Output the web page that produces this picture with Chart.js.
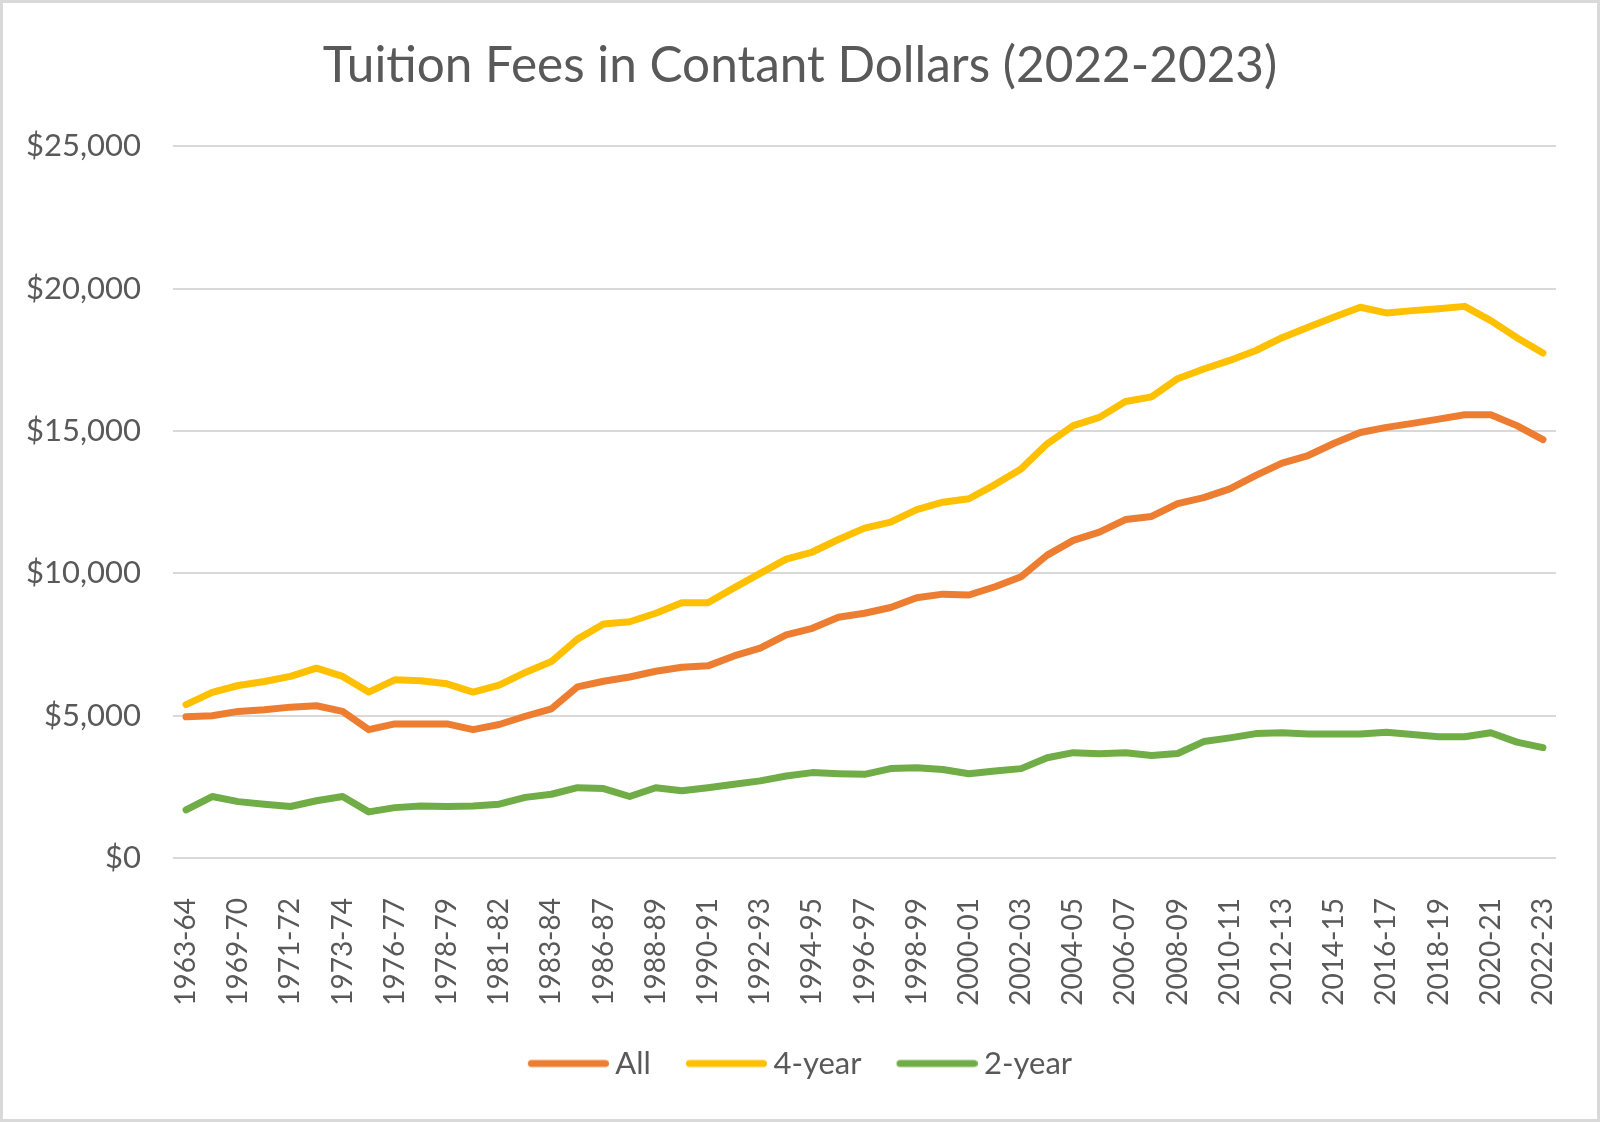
<!DOCTYPE html>
<html>
<head>
<meta charset="utf-8">
<title>Tuition Fees in Contant Dollars (2022-2023)</title>
<script src="https://cdn.jsdelivr.net/npm/chart.js@4.4.0/dist/chart.umd.min.js"></script>
<style>
    html, body { margin: 0; padding: 0; background: #fff; }
    #wrap { width: 1600px; height: 1122px; box-sizing: border-box; border: 3px solid #d9d9d9; background: #fff; }
</style>
</head>
<body>
<div id="wrap"><canvas id="myChart"></canvas></div>
<script>
// academic years (only every other one is labelled on the axis)
const years = [
    '1963-64', '1968-69', '1969-70', '1970-71', '1971-72', '1972-73', '1973-74', '1974-75',
    '1976-77', '1977-78', '1978-79', '1980-81', '1981-82', '1982-83', '1983-84', '1985-86',
    '1986-87', '1987-88', '1988-89', '1989-90', '1990-91', '1991-92', '1992-93', '1993-94',
    '1994-95', '1995-96', '1996-97', '1997-98', '1998-99', '1999-00', '2000-01', '2001-02',
    '2002-03', '2003-04', '2004-05', '2005-06', '2006-07', '2007-08', '2008-09', '2009-10',
    '2010-11', '2011-12', '2012-13', '2013-14', '2014-15', '2015-16', '2016-17', '2017-18',
    '2018-19', '2019-20', '2020-21', '2021-22', '2022-23'
];

const allInst = [
    4960, 5000, 5150, 5210, 5300, 5350, 5150, 4510, 4710, 4710, 4710, 4510, 4690, 4980,
    5240, 6010, 6210, 6360, 6560, 6700, 6750, 7100, 7370, 7840, 8070, 8460, 8600, 8800,
    9140, 9270, 9240, 9530, 9880, 10640, 11160, 11450, 11890, 12000, 12450, 12660, 12970,
    13440, 13870, 14140, 14570, 14950, 15130, 15270, 15420, 15570, 15570, 15190, 14700
];

const fourYear = [
    5390, 5820, 6060, 6200, 6380, 6670, 6380, 5830, 6260, 6230, 6120, 5830, 6070, 6520,
    6900, 7690, 8220, 8300, 8600, 8970, 8970, 9490, 10000, 10500, 10750, 11190, 11590, 11800,
    12240, 12500, 12620, 13120, 13670, 14550, 15190, 15480, 16040, 16200, 16840, 17180, 17480,
    17830, 18280, 18650, 19010, 19350, 19150, 19230, 19300, 19380, 18880, 18280, 17740
];

const twoYear = [
    1690, 2160, 1980, 1890, 1810, 2010, 2160, 1620, 1770, 1830, 1810, 1830, 1890, 2130,
    2240, 2470, 2440, 2160, 2470, 2360, 2470, 2590, 2710, 2880, 3000, 2960, 2940, 3140,
    3170, 3110, 2960, 3060, 3140, 3520, 3700, 3660, 3700, 3600, 3670, 4090, 4220, 4370,
    4400, 4360, 4360, 4360, 4420, 4340, 4260, 4260, 4400, 4070, 3880
];

const yTickValues = [0, 5000, 10000, 15000, 20000, 25000];

const textColor = '#595959';
const gridColor = '#d9d9d9';

Chart.defaults.font.family = 'Lato';
Chart.defaults.color = textColor;

// legend swatch: a thick rounded line, drawn a little to the right so the text sits close to it
function legendLine(color) {
    const c = document.createElement('canvas');
    c.width = 90;
    c.height = 12;
    const g = c.getContext('2d');
    g.strokeStyle = color;
    g.lineWidth = 7;
    g.lineCap = 'round';
    g.beginPath();
    g.moveTo(12.5, 6);
    g.lineTo(86.5, 6);
    g.stroke();
    return c;
}

function lineSet(label, data, color) {
    return {
        label: label,
        data: data,
        borderColor: color,
        backgroundColor: color,
        borderWidth: 7,
        borderCapStyle: 'round',
        borderJoinStyle: 'round',
        pointRadius: 0,
        pointStyle: legendLine(color),
        tension: 0,
        fill: false
    };
}

const ctx = document.getElementById('myChart').getContext('2d');
const myChart = new Chart(ctx, {
    type: 'line',
    data: {
        labels: years,
        datasets: [
            lineSet('All', allInst, '#ed7d31'),
            lineSet('4-year', fourYear, '#ffc000'),
            lineSet('2-year', twoYear, '#70ad47')
        ]
    },
    options: {
        responsive: true,
        maintainAspectRatio: false,
        animation: false,
        devicePixelRatio: 1,
        layout: {
            padding: { left: 15, right: 15, top: 0, bottom: 30 }
        },
        plugins: {
            title: {
                display: true,
                text: 'Tuition Fees in Contant Dollars (2022-2023)',
                color: textColor,
                font: { size: 49.5, weight: 'normal' },
                padding: { top: 33, bottom: 51 }
            },
            legend: {
                position: 'bottom',
                labels: {
                    usePointStyle: true,
                    pointStyleWidth: 72,
                    font: { size: 31 },
                    color: textColor,
                    padding: 35
                }
            },
            tooltip: { enabled: false }
        },
        scales: {
            x: {
                offset: true,
                grid: { display: false },
                border: { display: false },
                ticks: {
                    autoSkip: false,
                    minRotation: 90,
                    maxRotation: 90,
                    padding: 32,
                    color: textColor,
                    font: { size: 28 },
                    callback: function (val, i) {
                        return i % 2 === 0 ? this.getLabelForValue(val) : '';
                    }
                },
                afterFit: axis => {
                    axis.height = 155;
                    axis.paddingLeft = 0;
                    axis.paddingRight = 0;
                }
            },
            y: {
                min: 0,
                max: 25000,
                grid: { color: gridColor, lineWidth: 2, drawTicks: false },
                border: { display: false },
                ticks: {
                    padding: 32,
                    color: textColor,
                    font: { size: 31 },
                    callback: v => '$' + v.toLocaleString('en-US')
                },
                afterBuildTicks: axis => {
                    axis.ticks = yTickValues.map(v => ({ value: v }));
                },
                afterFit: axis => { axis.width = 155; }
            },
            // empty right-hand axis, only keeps the plot off the right edge
            yRight: {
                type: 'linear',
                position: 'right',
                display: true,
                grid: { display: false },
                border: { display: false },
                ticks: { display: false },
                afterFit: axis => { axis.width = 26; }
            }
        }
    }
});
</script>
</body>
</html>
